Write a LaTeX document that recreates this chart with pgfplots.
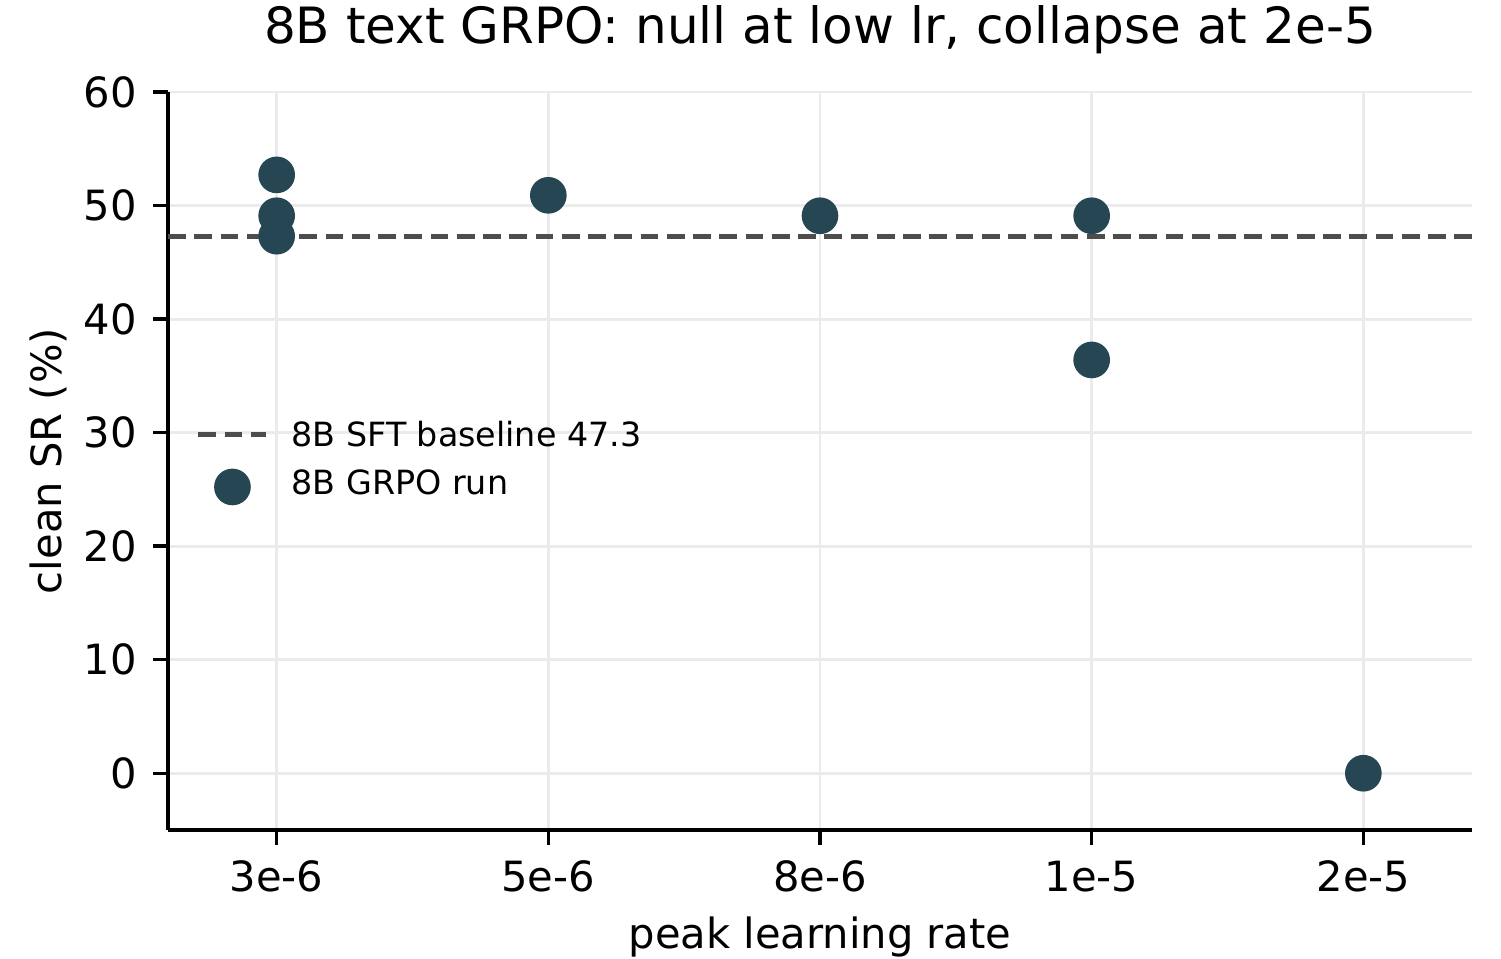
\documentclass[border=0pt]{standalone}
\usepackage{fontspec}
\setmainfont{DejaVu Sans}
\usepackage{pgfplots}
\pgfplotsset{compat=1.18}

\definecolor{runcol}{HTML}{264653}
\definecolor{basecol}{HTML}{4D4D4D}
\definecolor{gridcol}{HTML}{EBEBEB}

\pgfplotsset{
  baseline legend/.style={legend image code/.code={\draw[##1] (0pt,2.9pt) -- (16.3pt,2.9pt);}},
  run legend/.style={legend image code/.code={\draw[##1] plot coordinates {(8.2pt,1.9pt)};}},
}

\begin{document}
\begin{tikzpicture}
\path[use as bounding box] (-40.32pt,-30.72pt) rectangle (319.92pt,199.2pt);
\begin{axis}[
  at={(0,0)}, anchor=south west,
  scale only axis,
  width=312.96pt, height=177.12pt,
  xmin=-0.4, xmax=4.4,
  ymin=-5, ymax=60,
  xtick={0,1,2,3,4},
  xticklabels={3e-6,5e-6,8e-6,1e-5,2e-5},
  ytick={0,10,20,30,40,50,60},
  axis x line*=bottom, axis y line*=left,
  axis line style={black, line width=0.9pt},
  tick align=outside,
  major tick length=3.5pt,
  tick style={black, line width=0.8pt},
  grid=major,
  major grid style={gridcol, line width=0.7pt},
  /pgf/number format/assume math mode=true,
  ticklabel style={font=\fontsize{10}{12}\selectfont},
  xticklabel style={anchor=base, yshift=-11.3pt},
  yticklabel style={inner xsep=3.8pt},
  title={8B text GRPO: null at low lr, collapse at 2e-5},
  title style={at={(axis description cs:0.5,1.0325)}, anchor=base, font=\fontsize{12}{14}\selectfont},
  xlabel={peak learning rate},
  xlabel style={at={(axis description cs:0.5,-0.16)}, anchor=base, font=\fontsize{10}{12}\selectfont},
  ylabel={clean SR (\%)},
  ylabel style={at={(axis description cs:-0.0813,0.5)}, anchor=base, font=\fontsize{10}{12}\selectfont},
  legend cell align=left,
  legend style={draw=none, fill=none,
    at={(axis description cs:0.0213,0.5529)}, anchor=north west,
    inner sep=0pt, outer sep=0pt, row sep=3.9pt, column sep=5.5pt,
    cells={anchor=base west},
    nodes={inner sep=0pt, text height=6pt, text depth=1.5pt,
           font=\fontsize{8}{10}\selectfont}},
]
% SFT reference level
\addplot[basecol, line width=1.2pt, dash pattern=on 4.3pt off 2pt, baseline legend]
  coordinates {(-0.4,47.3) (4.4,47.3)};
\addlegendentry{8B SFT baseline 47.3}

% individual GRPO runs (x = learning-rate index)
\addplot[only marks, mark=*, mark size=4.2pt, color=runcol,
  mark options={draw=runcol, fill=runcol}, run legend]
  coordinates {
    (0,52.7) (0,49.1) (0,47.3)
    (1,50.9)
    (2,49.1)
    (3,49.1) (3,36.4)
    (4,0.0)
  };
\addlegendentry{8B GRPO run}
\end{axis}
\end{tikzpicture}
\end{document}
